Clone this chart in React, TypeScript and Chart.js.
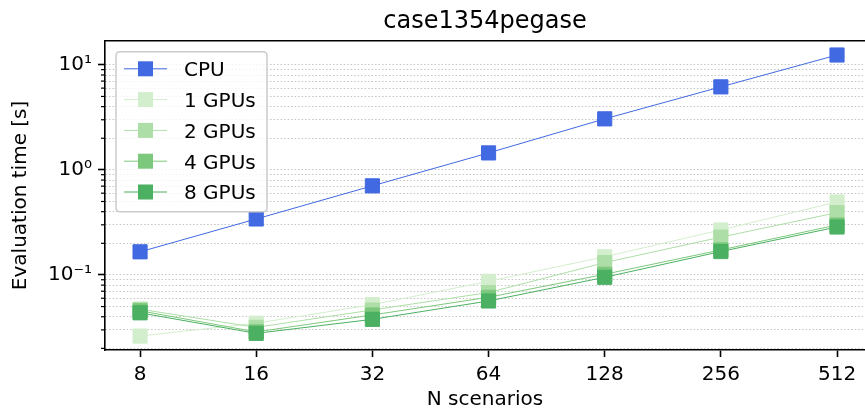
import React, { useEffect, useRef } from 'react';
import { Chart, registerables } from 'chart.js';

Chart.register(...registerables);

// ---- data ----
const scenarios = [8, 16, 32, 64, 128, 256, 512];
const cpuTimes = [0.166, 0.341, 0.705, 1.45, 3.06, 6.17, 12.4];
const gpu1Times = [0.0262, 0.0347, 0.0521, 0.087, 0.149, 0.268, 0.495];
const gpu2Times = [0.0472, 0.0317, 0.0464, 0.068, 0.131, 0.229, 0.392];
const gpu4Times = [0.0456, 0.0287, 0.0416, 0.0613, 0.1015, 0.173, 0.299];
const gpu8Times = [0.0436, 0.0278, 0.0378, 0.0565, 0.095, 0.167, 0.286];
const seriesLabels = ['CPU', '1 GPUs', '2 GPUs', '4 GPUs', '8 GPUs'];
const seriesColors = ['#4169e1', '#d3eecd', '#aedea7', '#7cc87c', '#4bb062'];
const yMajorTicks = [0.1, 1, 10];
const yMajorLabels = ['10⁻¹', '10⁰', '10¹'];
const titleText = 'case1354pegase';
const xTitle = 'N scenarios';
const yTitle = 'Evaluation time [s]';

const Y_MIN = 0.0193;
const Y_MAX = 16.93;
const X_MIN = 6.49;
const X_MAX = 605;
const FONT = '"DejaVu Sans", sans-serif';

const isMajor = (v: number) => yMajorTicks.some((m) => Math.abs(v / m - 1) < 1e-6);

function yTickValues(): number[] {
  const out: number[] = [];
  for (let e = -2; e <= 1; e++) {
    const d = Math.pow(10, e);
    for (let m = 1; m <= 9; m++) {
      const v = +(m * d).toPrecision(6);
      if (v >= Y_MIN && v <= Y_MAX) out.push(v);
    }
  }
  return out;
}

const decorPlugin = {
  id: 'decor',
  afterDraw(chart: any) {
    const { ctx, chartArea } = chart;
    const yScale = chart.scales.y;
    ctx.save();
    // top spine
    ctx.strokeStyle = '#000';
    ctx.lineWidth = 1.6;
    ctx.beginPath();
    ctx.moveTo(chartArea.left - 0.8, chartArea.top);
    ctx.lineTo(chartArea.right, chartArea.top);
    ctx.stroke();
    // minor y ticks
    ctx.lineWidth = 1.2;
    yScale.ticks.forEach((t: any) => {
      if (isMajor(t.value)) return;
      const py = yScale.getPixelForValue(t.value);
      ctx.beginPath();
      ctx.moveTo(chartArea.left - 4, py);
      ctx.lineTo(chartArea.left, py);
      ctx.stroke();
    });
    // legend
    const x0 = chartArea.left + 11;
    const y0 = chartArea.top + 11;
    const w = 151;
    const h = 160;
    const r = 4;
    ctx.beginPath();
    ctx.moveTo(x0 + r, y0);
    ctx.lineTo(x0 + w - r, y0);
    ctx.quadraticCurveTo(x0 + w, y0, x0 + w, y0 + r);
    ctx.lineTo(x0 + w, y0 + h - r);
    ctx.quadraticCurveTo(x0 + w, y0 + h, x0 + w - r, y0 + h);
    ctx.lineTo(x0 + r, y0 + h);
    ctx.quadraticCurveTo(x0, y0 + h, x0, y0 + h - r);
    ctx.lineTo(x0, y0 + r);
    ctx.quadraticCurveTo(x0, y0, x0 + r, y0);
    ctx.closePath();
    ctx.fillStyle = 'rgba(255,255,255,0.8)';
    ctx.fill();
    ctx.strokeStyle = '#cccccc';
    ctx.lineWidth = 1.5;
    ctx.stroke();
    chart.data.datasets.forEach((ds: any, i: number) => {
      const cy = y0 + 17 + i * 30.8;
      ctx.strokeStyle = ds.borderColor;
      ctx.lineWidth = 1;
      ctx.beginPath();
      ctx.moveTo(x0 + 8, cy);
      ctx.lineTo(x0 + 51, cy);
      ctx.stroke();
      ctx.fillStyle = ds.pointBackgroundColor;
      ctx.fillRect(x0 + 29.5 - 7.5, cy - 7.5, 15, 15);
      ctx.fillStyle = '#000';
      ctx.font = `20px ${FONT}`;
      ctx.textBaseline = 'alphabetic';
      ctx.textAlign = 'left';
      ctx.fillText(ds.label, x0 + 68, cy + 7.3);
    });
    ctx.restore();
  },
};

export default function App() {
  const canvasRef = useRef<HTMLCanvasElement | null>(null);

  useEffect(() => {
    const canvas = canvasRef.current;
    if (!canvas) return;
    const series = [cpuTimes, gpu1Times, gpu2Times, gpu4Times, gpu8Times];
    const datasets = series.map((vals, i) => ({
      label: seriesLabels[i],
      data: scenarios.map((n, j) => ({ x: n, y: vals[j] })),
      borderColor: seriesColors[i],
      backgroundColor: seriesColors[i],
      pointBackgroundColor: seriesColors[i],
      pointBorderColor: seriesColors[i],
      borderWidth: 1,
      pointStyle: 'rect',
      pointRadius: 10,
      pointBorderWidth: 1,
      pointHoverRadius: 10,
      order: series.length - 1 - i,
    }));

    const chart = new Chart(canvas, {
      type: 'line',
      data: { datasets },
      plugins: [decorPlugin],
      options: {
        animation: false,
        responsive: false,
        maintainAspectRatio: false,
        layout: { padding: 0, autoPadding: false },
        plugins: {
          legend: { display: false },
          tooltip: { enabled: false },
          title: {
            display: true,
            text: titleText,
            fullSize: false,
            color: '#000',
            font: { family: FONT, size: 24, weight: 'normal' as any },
            padding: { top: 7, bottom: 5 },
          },
        },
        scales: {
          x: {
            type: 'logarithmic',
            min: X_MIN,
            max: X_MAX,
            afterBuildTicks: (scale: any) => {
              scale.ticks = scenarios.map((v) => ({ value: v }));
            },
            afterFit: (scale: any) => {
              scale.height = 62;
              scale.paddingLeft = 0;
              scale.paddingRight = 0;
            },
            ticks: {
              autoSkip: false,
              maxRotation: 0,
              padding: 6,
              color: '#000',
              font: { family: FONT, size: 20 },
              callback: (v: any) => String(v),
            },
            grid: {
              drawOnChartArea: false,
              drawTicks: true,
              tickLength: 7,
              tickColor: '#000',
              tickWidth: 1.6,
            },
            border: { display: true, color: '#000', width: 1.6 },
            title: {
              display: true,
              text: xTitle,
              color: '#000',
              font: { family: FONT, size: 20 },
              padding: { top: 0, bottom: 0 },
            },
          },
          y: {
            type: 'logarithmic',
            min: Y_MIN,
            max: Y_MAX,
            afterBuildTicks: (scale: any) => {
              scale.ticks = yTickValues().map((v) => ({ value: v }));
            },
            afterFit: (scale: any) => {
              scale.width = 105;
              scale.paddingTop = 0;
              scale.paddingBottom = 0;
            },
            ticks: {
              autoSkip: false,
              padding: 6,
              color: '#000',
              font: { family: FONT, size: 20 },
              callback: (v: any) => {
                const idx = yMajorTicks.findIndex((m) => Math.abs(Number(v) / m - 1) < 1e-6);
                return idx >= 0 ? yMajorLabels[idx] : '';
              },
            },
            grid: {
              drawOnChartArea: true,
              drawTicks: true,
              tickLength: 7,
              tickWidth: 1.6,
              color: '#c4c4c4',
              lineWidth: 1,
              tickColor: (c: any) => (c.tick && isMajor(c.tick.value) ? '#000' : 'rgba(0,0,0,0)'),
            },
            border: { display: true, color: '#000', width: 1.6, dash: [1.5, 2] },
            title: {
              display: true,
              text: yTitle,
              color: '#000',
              font: { family: FONT, size: 20 },
              padding: { top: 9, bottom: 0 },
            },
          },
        },
      } as any,
    });
    return () => chart.destroy();
  }, []);

  return (
    <div style={{ position: 'absolute', left: 0, top: 0, width: 865, height: 412, background: '#fff' }}>
      <canvas ref={canvasRef} width={865} height={412} style={{ display: 'block' }} />
    </div>
  );
}
